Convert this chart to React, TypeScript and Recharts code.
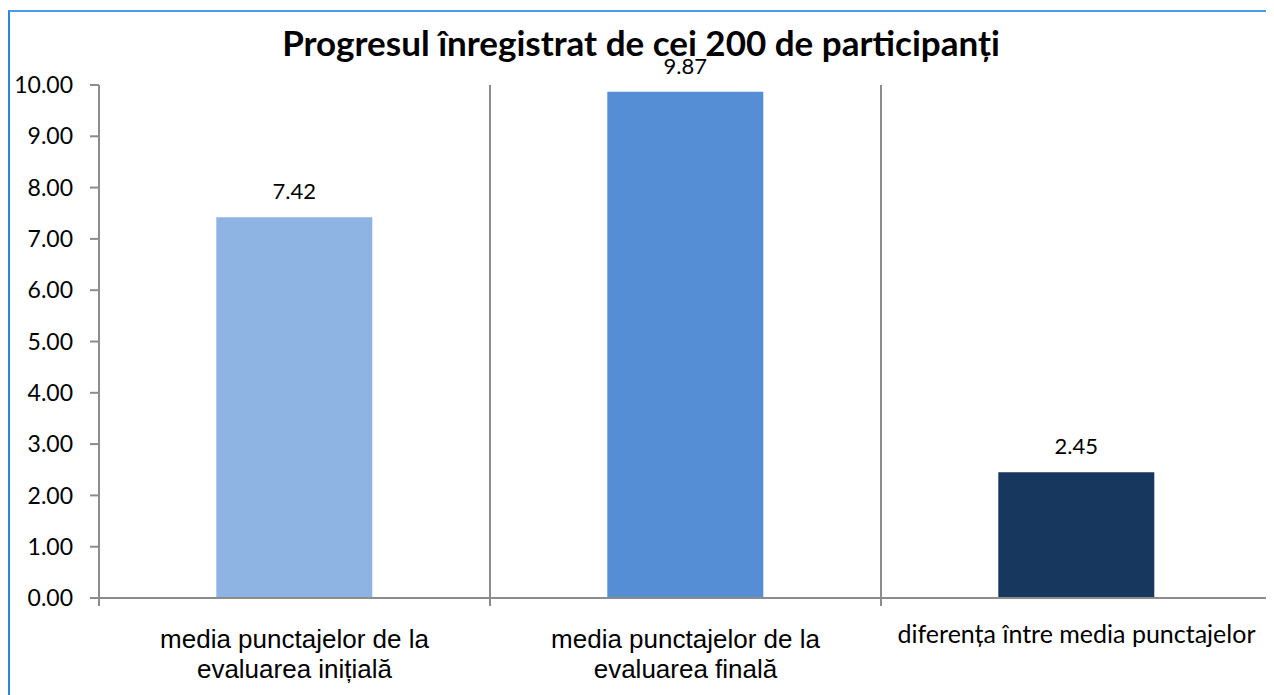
import { BarChart, Bar, Cell, LabelList, XAxis, YAxis } from "recharts";

const categories = [
  "media punctajelor de la evaluarea inițială",
  "media punctajelor de la evaluarea finală",
  "diferența între media punctajelor",
];
const tickLines = [
  ["media punctajelor de la", "evaluarea inițială"],
  ["media punctajelor de la", "evaluarea finală"],
  ["diferența între media punctajelor"],
];
const values = [7.42, 9.87, 2.45];
const colors = ["#8EB4E3", "#558ED5", "#17375E"];
const yTicks = [0, 1, 2, 3, 4, 5, 6, 7, 8, 9, 10];

const data = categories.map((name, i) => ({ name, value: values[i] }));

const CHART_W = 1262;
const CHART_H = 690;
const AXIS_W = 89;
const TOP = 73;
const PLOT_H = 513;
const BAND = (CHART_W - AXIS_W) / categories.length;
const GRAY = "#8c8c8c";

function CategoryTick(props: any) {
  const { x, y, index } = props;
  const lines = tickLines[index] || [];
  const single = lines.length === 1;
  const left = x - BAND / 2;
  return (
    <g>
      <line x1={left} x2={left} y1={y - 8 - PLOT_H} y2={y} stroke={GRAY} strokeWidth={2} />
      {lines.map((t, i) => (
        <text
          key={i}
          x={x}
          y={y + (single ? 37 : 42) + i * 30}
          textAnchor="middle"
          fill="#000"
          style={{
            fontFamily: single ? "Lato" : "'Liberation Sans', Arial",
            fontSize: single ? 25 : 26,
          }}
        >
          {t}
        </text>
      ))}
    </g>
  );
}

export default function App() {
  return (
    <div
      style={{
        position: "relative",
        width: CHART_W,
        height: 690,
        marginTop: 2,
        borderTop: "2px solid #4a9be8",
        borderLeft: "2px solid #2a86e0",
        borderRight: "1px solid #8fbbe8",
        background: "#fff",
      }}
    >
      <div
        style={{
          position: "absolute",
          top: 9,
          left: 0,
          width: "100%",
          textAlign: "center",
          fontFamily: "Lato",
          fontWeight: 700,
          fontSize: 35,
          lineHeight: "42px",
          color: "#000",
          zIndex: 1,
        }}
      >
        Progresul înregistrat de cei 200 de participanți
      </div>
      <BarChart
        width={CHART_W}
        height={CHART_H}
        data={data}
        margin={{ top: TOP, right: 0, left: 0, bottom: 0 }}
        barCategoryGap="30%"
      >
        <XAxis
          dataKey="name"
          interval={0}
          height={CHART_H - TOP - PLOT_H}
          axisLine={{ stroke: GRAY, strokeWidth: 2 }}
          tickLine={false}
          tickSize={8}
          tickMargin={0}
          tick={<CategoryTick />}
        />
        <YAxis
          width={AXIS_W}
          domain={[0, 10]}
          ticks={yTicks}
          tickFormatter={(v: number) => v.toFixed(2)}
          axisLine={{ stroke: GRAY, strokeWidth: 2 }}
          tickLine={{ stroke: GRAY, strokeWidth: 2 }}
          tickSize={9}
          tickMargin={17}
          tick={{ fill: "#000", fontFamily: "Lato", fontSize: 23 }}
        />
        <Bar dataKey="value" isAnimationActive={false}>
          {data.map((_, i) => (
            <Cell key={i} fill={colors[i]} />
          ))}
          <LabelList
            dataKey="value"
            position="top"
            offset={18}
            formatter={(v: any) => Number(v).toFixed(2)}
            style={{ fill: "#000", fontFamily: "Lato", fontSize: 22 }}
          />
        </Bar>
      </BarChart>
    </div>
  );
}
